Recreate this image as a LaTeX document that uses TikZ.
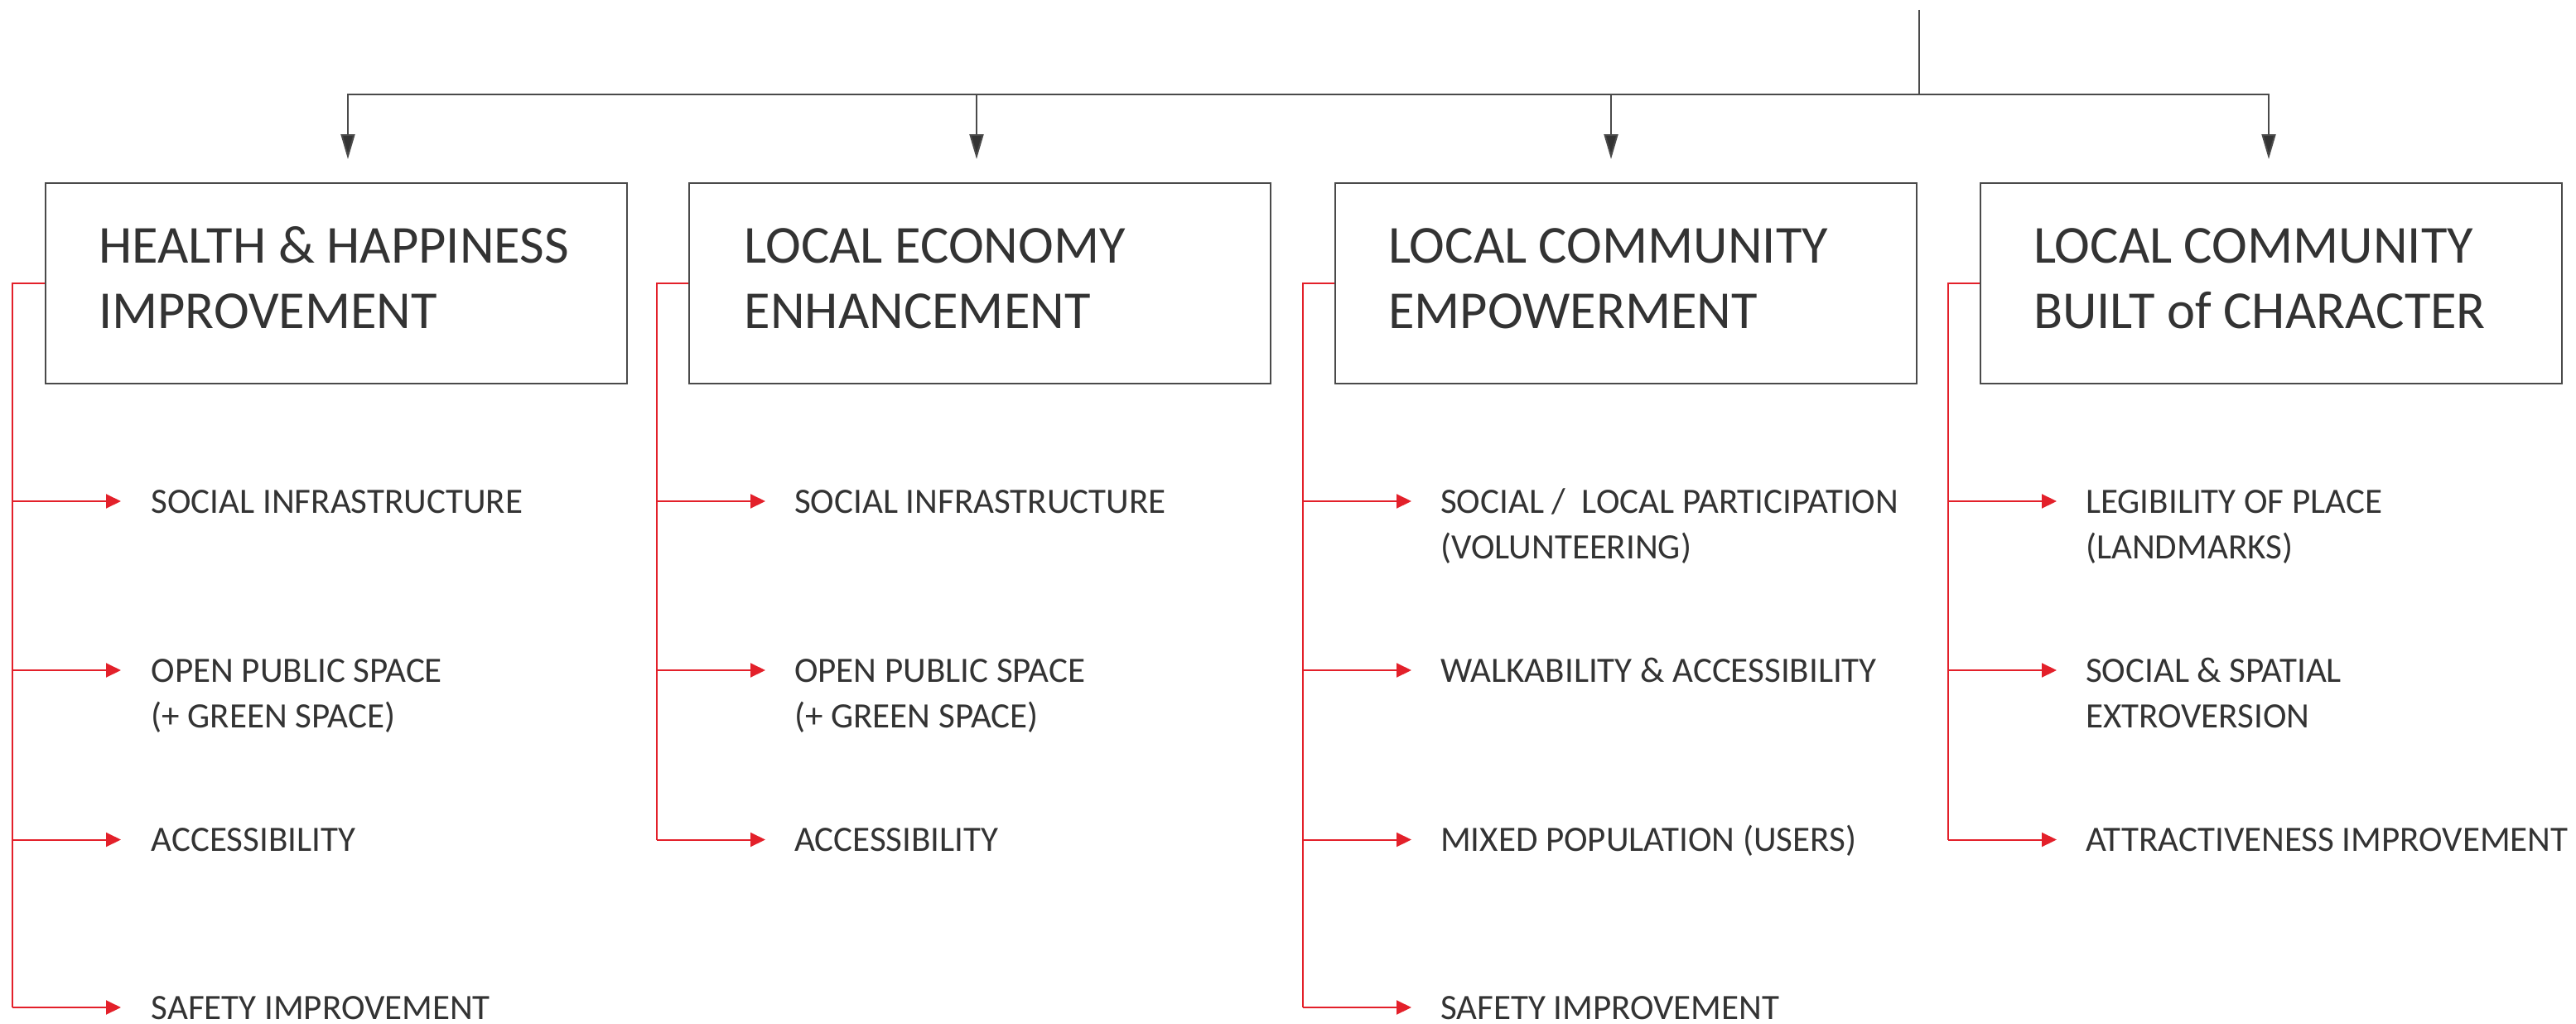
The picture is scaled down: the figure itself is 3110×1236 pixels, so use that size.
\documentclass[tikz,border=0pt]{standalone}
\usepackage{fontspec}
\setmainfont{Carlito}
\usetikzlibrary{arrows.meta}
\definecolor{ink}{HTML}{333333}
\definecolor{wire}{HTML}{4A4A4A}
\definecolor{accent}{HTML}{E3202A}
% two stacked lines whose baseline is that of the first line
\newcommand{\twolines}[2]{\vtop{\hbox{#1}\hbox{#2}}}
\begin{document}
\begin{tikzpicture}[x=1pt,y=-1pt,
  conn/.style={draw=wire, line width=2pt},
  head/.style={-{Triangle[length=30pt,width=17pt,fill=ink]}},
  card/.style={draw=wire, line width=2pt, minimum width=702pt, minimum height=242pt,
               anchor=north west, inner sep=0pt},
  branch/.style={draw=accent, line width=2pt},
  redhead/.style={-{Triangle[length=18pt,width=17pt]}},
  title/.style={anchor=base west, inner sep=0pt, text=ink, font=\fontsize{64.5}{79}\selectfont},
  item/.style={anchor=base west, inner sep=0pt, text=ink, font=\fontsize{43}{55}\selectfont},
]
\useasboundingbox (0,0) rectangle (3110,1236);

% ---- category boxes
\node[card] (b1) at (53.5,220) {};
\node[card] (b2) at (831,220) {};
\node[card] (b3) at (1610.5,220) {};
\node[card] (b4) at (2390,220) {};

\node[title] (h1) at (119,317) {\twolines{HEALTH \& HAPPINESS}{IMPROVEMENT}};
\node[title] (h2) at (898.5,317) {\twolines{LOCAL ECONOMY}{ENHANCEMENT}};
\node[title] (h3) at (1676,317) {\twolines{LOCAL COMMUNITY}{EMPOWERMENT}};
\node[title] (h4) at (2455,317) {\twolines{LOCAL COMMUNITY}{BUILT of CHARACTER}};

% ---- distribution from the top
\coordinate (top) at (2317,12);
\coordinate (j) at (2317,114);
\coordinate (a1) at (420,192);
\coordinate (a2) at (1179,192);
\coordinate (a3) at (1945,192);
\coordinate (a4) at (2739,192);
\draw[conn] (top) -- (j);
\foreach \k in {1,...,4} \draw[conn,head] (j) -| (a\k);

% ---- red branches: spine coordinates (v) and arrow tips (t)
\foreach \c/\vx/\n in {1/15/4, 2/793/3, 3/1573/4, 4/2352/3} {
  \foreach \r/\ry in {1/605, 2/809, 3/1013.5, 4/1216} {
    \ifnum\r>\n\relax\else
      \coordinate (v\c-\r) at (\vx,\ry);
      \coordinate (t\c-\r) at ({\vx+131},\ry);
    \fi
  }
}
\draw[branch] (b1.west) -| (v1-4);
\draw[branch] (b2.west) -| (v2-3);
\draw[branch] (b3.west) -| (v3-4);
\draw[branch] (b4.west) -| (v4-3);
\foreach \k in {1,...,4} \draw[branch,redhead] (v1-\k) -- (t1-\k);
\foreach \k in {1,...,3} \draw[branch,redhead] (v2-\k) -- (t2-\k);
\foreach \k in {1,...,4} \draw[branch,redhead] (v3-\k) -- (t3-\k);
\foreach \k in {1,...,3} \draw[branch,redhead] (v4-\k) -- (t4-\k);

% ---- items
\node[item] (i1-1) at (182.5,619) {SOCIAL INFRASTRUCTURE};
\node[item] (i1-2) at (182.5,823) {\twolines{OPEN PUBLIC SPACE}{(+ GREEN SPACE)}};
\node[item] (i1-3) at (182.5,1027.5) {ACCESSIBILITY};
\node[item] (i1-4) at (182.5,1230) {SAFETY IMPROVEMENT};

\node[item] (i2-1) at (959,619) {SOCIAL INFRASTRUCTURE};
\node[item] (i2-2) at (959,823) {\twolines{OPEN PUBLIC SPACE}{(+ GREEN SPACE)}};
\node[item] (i2-3) at (959,1027.5) {ACCESSIBILITY};

\node[item] (i3-1) at (1739,619) {\twolines{SOCIAL /\ \ LOCAL PARTICIPATION}{(VOLUNTEERING)}};
\node[item] (i3-2) at (1739,823) {WALKABILITY \& ACCESSIBILITY};
\node[item] (i3-3) at (1739,1027.5) {MIXED POPULATION (USERS)};
\node[item] (i3-4) at (1739,1230) {SAFETY IMPROVEMENT};

\node[item] (i4-1) at (2518,619) {\twolines{LEGIBILITY OF PLACE}{(LANDMARKS)}};
\node[item] (i4-2) at (2518,823) {\twolines{SOCIAL \& SPATIAL}{EXTROVERSION}};
\node[item] (i4-3) at (2518,1027.5) {ATTRACTIVENESS IMPROVEMENT};
\end{tikzpicture}
\end{document}
